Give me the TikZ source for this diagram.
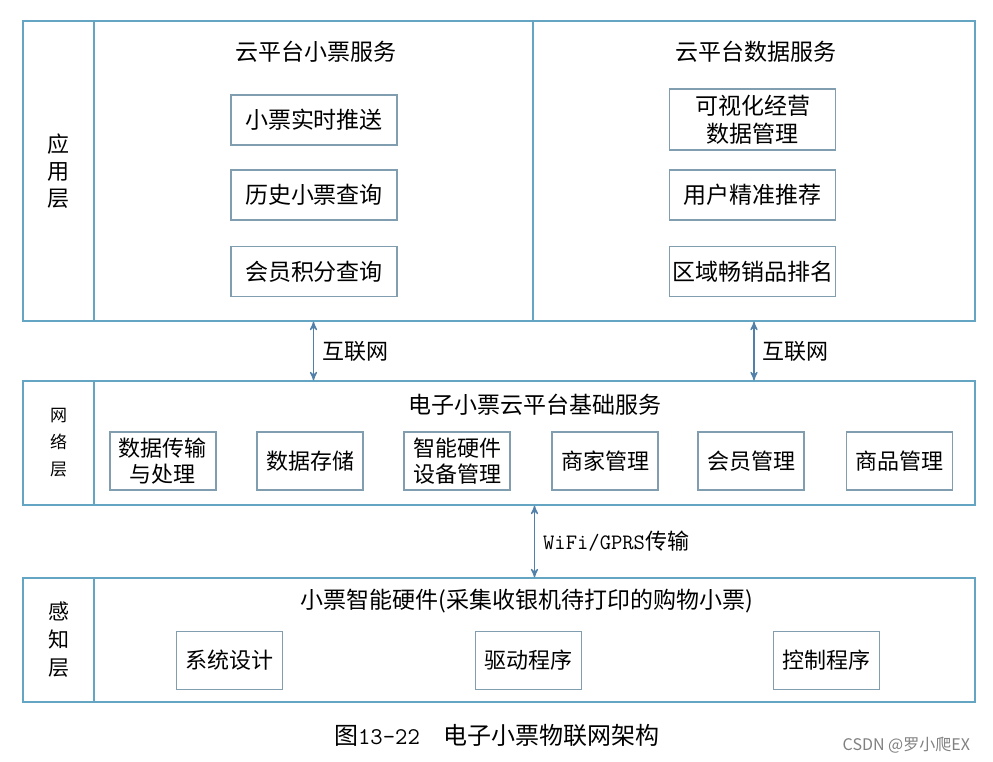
\documentclass[tikz,border=0pt]{standalone}
\usepackage{fontspec}
\setmainfont{Noto Sans CJK SC}
\usepackage{tikz}
\usetikzlibrary{arrows,positioning}
\definecolor{framecol}{RGB}{100,165,195}
\definecolor{itemcol}{RGB}{128,158,175}
\definecolor{arrowcol}{RGB}{82,128,168}
\tikzset
{
    layerbox/.style  = {rectangle, draw=framecol, line width=0.6pt, inner sep=0pt, minimum height=62pt},
    sidebox/.style   = {layerbox, minimum width=35.5pt, align=center},
    itembox/.style   = {rectangle, draw=itemcol, line width=0.55pt, align=center, inner sep=0pt, font=\fontsize{11.5}{14}\selectfont},
    appitem/.style   = {itembox, minimum width=83pt, minimum height=25pt},
    smallitem/.style = {itembox, minimum width=53pt, minimum height=29pt, font=\fontsize{11}{13}\selectfont},
    heading/.style   = {font=\fontsize{11.5}{14}\selectfont, inner sep=0pt},
    linktext/.style  = {font=\fontsize{11}{13}\selectfont, right, inner sep=4pt}
}

\begin{document}
\begin{tikzpicture}[x=0.5pt, y=-0.5pt, <->, >=stealth']
    \useasboundingbox (0,0) rectangle (993,762);

    % application layer
    \node [layerbox, minimum width=476pt, minimum height=150pt] (app) at (499,171) {};
    \node [sidebox, minimum height=150pt, font=\fontsize{11}{13.5}\selectfont] (applabel) at (58.5,171) {应\\用\\层};
    \node [layerbox, minimum width=219.5pt, minimum height=150pt] (ticketpanel) at (313.5,171) {};
    \node [layerbox, minimum width=221pt, minimum height=150pt] (datapanel) at (754,171) {};
    \node [heading] (tickettitle) at (316,52) {云平台小票服务};
    \node [heading] (datatitle) at (756,52) {云平台数据服务};
    \node [appitem] (push) at (314,120) {小票实时推送};
    \node [appitem] (history) at (314,195) {历史小票查询};
    \node [appitem] (points) at (314,271.5) {会员积分查询};
    \node [appitem, minimum height=30.5pt] (visual) at (752.5,119.5) {可视化经营\\数据管理};
    \node [appitem] (recommend) at (752.5,195) {用户精准推荐};
    \node [appitem] (ranking) at (752.5,271.5) {区域畅销品排名};

    % network layer
    \node [layerbox, minimum width=476pt] (net) at (499,443) {};
    \node [sidebox, font=\fontsize{8.5}{13.5}\selectfont] (netlabel) at (58.5,443) {网\\络\\层};
    \node [layerbox, minimum width=440.5pt] (netbody) at (534.5,443) {};
    \node [heading] (nettitle) at (535,405) {电子小票云平台基础服务};
    \node [smallitem] (transfer) at (163,461) {数据传输\\与处理};
    \node [smallitem] (storage) at (310,461) {数据存储};
    \node [smallitem] (devices) at (457,461) {智能硬件\\设备管理};
    \node [smallitem] (merchant) at (605,461) {商家管理};
    \node [smallitem] (member) at (751,461) {会员管理};
    \node [smallitem] (goods) at (899.5,461) {商品管理};

    % perception layer
    \node [layerbox, minimum width=476pt] (sense) at (499,640) {};
    \node [sidebox, font=\fontsize{10.5}{14}\selectfont] (senselabel) at (58.5,640) {感\\知\\层};
    \node [layerbox, minimum width=440.5pt] (sensebody) at (534.5,640) {};
    \node [heading] (sensetitle) at (527,601) {小票智能硬件(采集收银机待打印的购物小票)};
    \node [smallitem] (design) at (229.5,660.5) {系统设计};
    \node [smallitem] (driver) at (528.5,660.5) {驱动程序};
    \node [smallitem] (control) at (826.5,660.5) {控制程序};

    % links between layers
    \draw [arrowcol, line width=0.6pt] (ticketpanel.south) -- (net.north -| ticketpanel.south)
        node [linktext, midway, black] {互联网};
    \draw [arrowcol, line width=0.6pt] (datapanel.south) -- (net.north -| datapanel.south)
        node [linktext, midway, black] {互联网};
    \draw [arrowcol, line width=0.6pt] (netbody.south) -- (sensebody.north)
        node [linktext, midway, black] {{\ttfamily WiFi/GPRS}传输};

    % caption
    \node [font=\fontsize{12}{14}\selectfont] (caption) at (497,735) {图{\ttfamily 13-22}　电子小票物联网架构};
    \node [anchor=east, gray, font=\fontsize{8}{10}\selectfont] (watermark) at (977,745) {CSDN @罗小爬EX};
\end{tikzpicture}
\end{document}
